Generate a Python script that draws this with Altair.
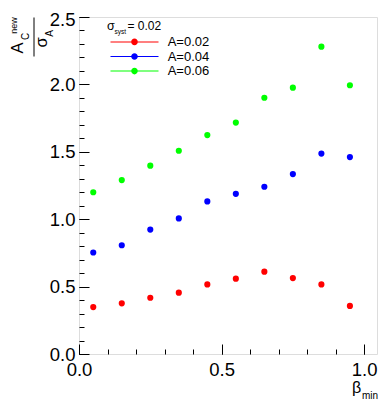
import altair as alt
import pandas as pd

# ---- data ----
beta = [0.05, 0.15, 0.25, 0.35, 0.45, 0.55, 0.65, 0.75, 0.85, 0.95]
a002 = [0.348, 0.376, 0.417, 0.455, 0.516, 0.559, 0.611, 0.563, 0.516, 0.357]
a004 = [0.753, 0.807, 0.923, 1.006, 1.132, 1.188, 1.241, 1.335, 1.487, 1.461]
a006 = [1.200, 1.290, 1.397, 1.508, 1.624, 1.717, 1.901, 1.976, 2.280, 1.994]
series = ["A=0.02", "A=0.04", "A=0.06"]
colors = ["#ff0000", "#0000ff", "#00ff00"]

y_major = [0.0, 0.5, 1.0, 1.5, 2.0, 2.5]
y_minor = [0.0, 0.1, 0.2, 0.3, 0.4, 0.5, 0.6, 0.7, 0.8, 0.9, 1.0, 1.1, 1.2,
           1.3, 1.4, 1.5, 1.6, 1.7, 1.8, 1.9, 2.0, 2.1, 2.2, 2.3, 2.4, 2.5]
x_major = [0.0, 0.5, 1.0]
x_minor = [0.0, 0.1, 0.2, 0.3, 0.4, 0.5, 0.6, 0.7, 0.8, 0.9, 1.0]

rows = []
for name, vals in zip(series, [a002, a004, a006]):
    for b, v in zip(beta, vals):
        rows.append({"beta": b, "val": v, "series": name})
df = pd.DataFrame(rows)

FONT = "Liberation Sans"
xscale = alt.Scale(domain=[0, 1.045], nice=False, zero=False)
yscale = alt.Scale(domain=[0, 2.5], nice=False, zero=False)
cscale = alt.Scale(domain=series, range=colors)

legend_symbol = ("M-4,-0.085H4V0.085H-4Z "
                 "M0.55,0A0.55,0.55,0,1,1,-0.55,0A0.55,0.55,0,1,1,0.55,0Z")

leg = alt.Legend(
    title=None, orient="none", legendX=49, legendY=18.4,
    symbolType=legend_symbol, symbolSize=144, symbolStrokeWidth=0,
    labelFont=FONT, labelFontSize=13, labelColor="black",
    labelOffset=26.7, rowPadding=0.6, padding=0,
)

points = alt.Chart(df).mark_point(filled=True, shape="circle", size=38, opacity=1).encode(
    x=alt.X("beta:Q", scale=xscale, title=None,
            axis=alt.Axis(values=x_major, format=".1f", offset=-10, tickSize=10,
                          labelPadding=6, labelFontSize=18.5, labelFont=FONT,
                          labelColor="black", tickColor="black", domain=False,
                          grid=False, orient="bottom", labelFlush=False)),
    y=alt.Y("val:Q", scale=yscale, title=None,
            axis=alt.Axis(values=y_major, format=".1f", offset=-10, tickSize=10,
                          labelPadding=4, labelFontSize=18.5, labelFont=FONT,
                          labelColor="black", tickColor="black", domain=False,
                          grid=False, orient="left", labelFlush=False,
                          labelOffset={"condition": {"test": "datum.value >= 2.5", "value": 2},
                                       "value": 0})),
    color=alt.Color("series:N", scale=cscale, legend=leg),
)

minor = alt.Chart(df).mark_point(opacity=0).encode(
    x=alt.X("beta:Q", scale=xscale, title=None,
            axis=alt.Axis(values=x_minor, offset=-5, tickSize=5, labels=False,
                          tickColor="black", domain=False, grid=False, orient="bottom")),
    y=alt.Y("val:Q", scale=yscale, title=None,
            axis=alt.Axis(values=y_minor, offset=-5, tickSize=5, labels=False,
                          tickColor="black", domain=False, grid=False, orient="left")),
)


def txt(s, x, y, size, angle=0, align="left", baseline="alphabetic"):
    return alt.Chart(pd.DataFrame({"t": [s]})).mark_text(
        font=FONT, fontSize=size, angle=angle, align=align, baseline=baseline,
        color="black"
    ).encode(x=alt.value(x), y=alt.value(y), text="t:N")


texts = [
    # y title: A_C^new / sigma_A (rotated)
    txt("A", -56, 31, 16.5, angle=270, align="center"),
    txt("new", -62, 8.5, 9, angle=270, align="center"),
    txt("C", -50.5, 19.5, 10, angle=270, align="center"),
    txt("σ", -32, 25.5, 16.5, angle=270, align="center"),
    txt("A", -26, 16.5, 10, angle=270, align="center"),
    # x title: beta_min
    txt("β", 273, 376, 16),
    txt("min", 283, 381.5, 10),
    # legend header
    txt("σ", 28, 13, 12.5),
    txt("syst", 35.5, 17, 6.5),
    txt("= 0.02", 48.5, 13, 12),
]

frac = alt.Chart(pd.DataFrame({"a": [0]})).mark_rule(color="black", strokeWidth=1).encode(
    x=alt.value(-45), y=alt.value(0.5), y2=alt.value(39.5)
)

chart = alt.layer(points, minor, frac, *texts).resolve_axis(
    x="independent", y="independent"
).properties(
    width=298, height=337,
    autosize=alt.AutoSizeParams(type="none"),
    padding={"left": 71, "top": 9, "right": 1, "bottom": 47},
).configure_view(stroke="black", strokeWidth=1).configure(background="white")

chart.save("out.html", embed_options={"renderer": "svg", "actions": False})
